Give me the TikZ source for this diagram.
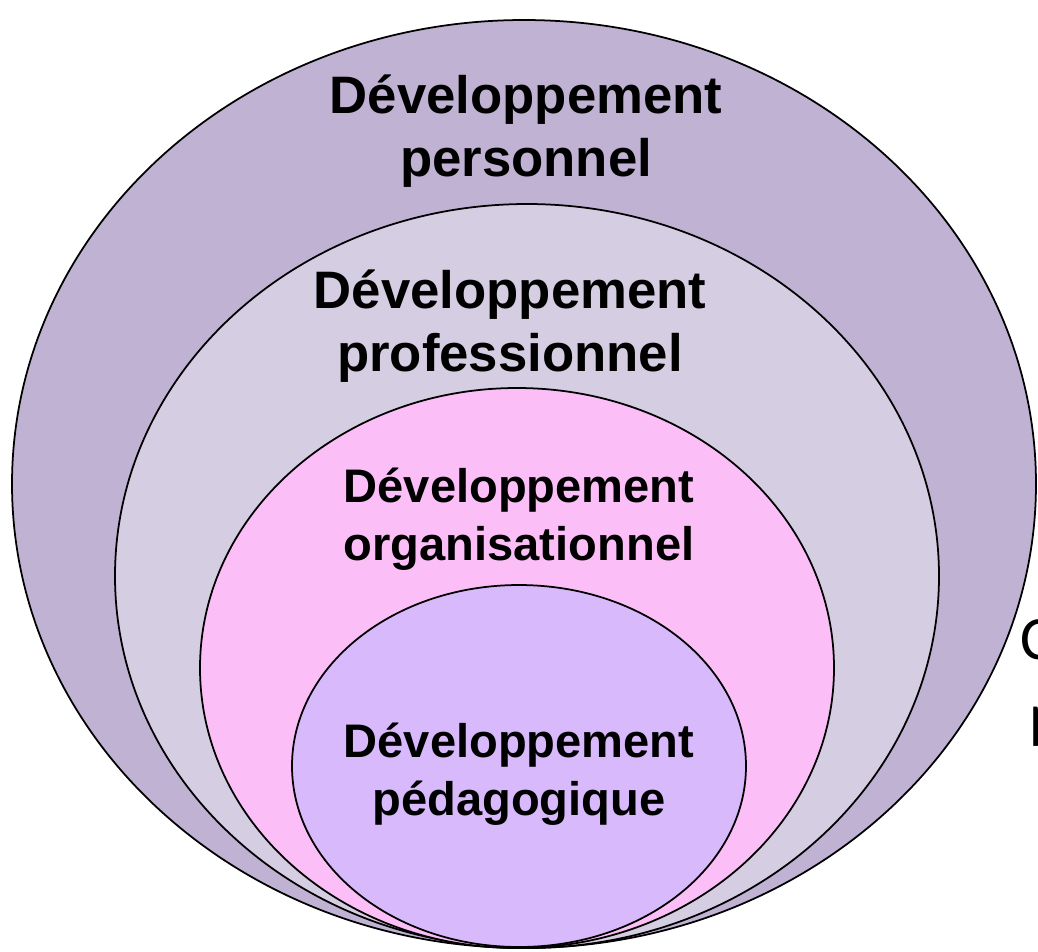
\documentclass[tikz,border=0pt]{standalone}
\usepackage{fontspec}
\setmainfont{Liberation Sans}
\newfontfamily\calfont{Carlito}
\definecolor{cperso}{HTML}{C0B2D2}
\definecolor{cprof}{HTML}{D5CDE1}
\definecolor{corga}{HTML}{FCBEF6}
\definecolor{cpeda}{HTML}{D7B9FC}
\begin{document}
\begin{tikzpicture}[x=0.1mm,y=-0.1mm,
  ring/.style={draw=black,line width=0.5pt},
  big/.style={align=center,inner sep=0pt,font=\fontsize{15}{18.1}\selectfont\bfseries},
  small/.style={align=center,inner sep=0pt,font=\fontsize{13.4}{16.4}\selectfont\bfseries}]
\useasboundingbox (0,0) rectangle (1038,951);
\draw[ring,fill=cperso] (524,484) ellipse [x radius=51.2mm,y radius=46.4mm];
\draw[ring,fill=cprof] (527,576) ellipse [x radius=41.2mm,y radius=37.2mm];
\draw[ring,fill=corga] (517,668) ellipse [x radius=31.7mm,y radius=28mm];
\draw[ring,fill=cpeda] (519,766) ellipse [x radius=22.7mm,y radius=18.1mm];

\node[big] (perso) at (526,131) {Développement\\personnel};
\node[big] (prof) at (510,326) {Développement\\professionnel};
\node[small] (orga) at (519,519) {Développement\\organisationnel};
\node[small] (peda) at (519,774) {Développement\\pédagogique};

\node[inner sep=0pt,anchor=base west,font=\calfont\fontsize{17.5}{21}\selectfont] (c) at (1020,659) {C};
\node[inner sep=0pt,anchor=base west,font=\calfont\fontsize{17.5}{21}\selectfont] (p) at (1029,736) {p};
\end{tikzpicture}
\end{document}
